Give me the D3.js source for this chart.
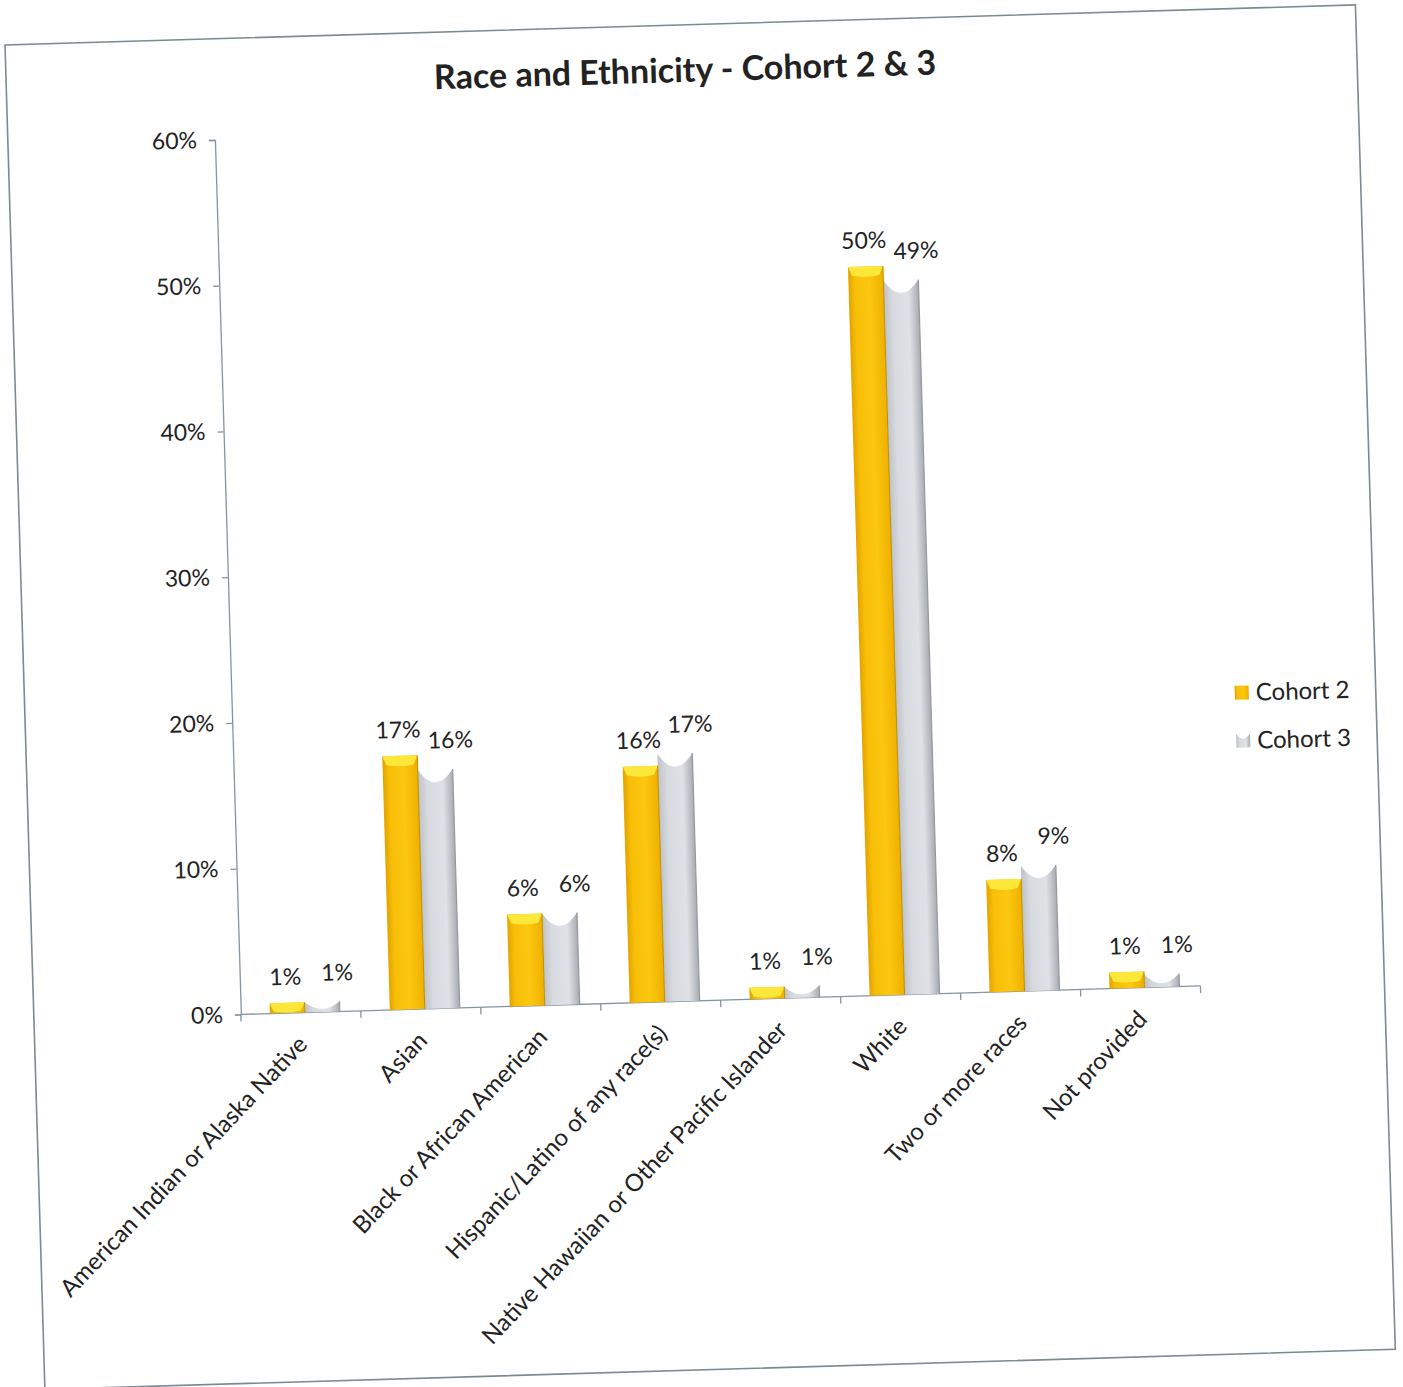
<!DOCTYPE html>
<html>
<head>
<meta charset="utf-8">
<script src="https://cdn.jsdelivr.net/npm/d3@7"></script>
<style>
  body { margin: 0; background: #fff; }
  svg { display: block; font-family: Lato, sans-serif; }
</style>
</head>
<body>
<svg id="chart" width="1403" height="1387"></svg>
<script>
const categories = [
  'American Indian or Alaska Native',
  'Asian',
  'Black or African American',
  'Hispanic/Latino of any race(s)',
  'Native Hawaiian or Other Pacific Islander',
  'White',
  'Two or more races',
  'Not provided'
];
const seriesNames = ['Cohort 2', 'Cohort 3'];
const cohort2 = [0.007, 0.174, 0.063, 0.162, 0.008, 0.500, 0.077, 0.011];
const cohort3 = [0.007, 0.164, 0.063, 0.170, 0.008, 0.490, 0.086, 0.009];
const yTicks = [0, 0.1, 0.2, 0.3, 0.4, 0.5, 0.6];
const chartTitle = 'Race and Ethnicity - Cohort 2 & 3';

const axisColor = '#8494a0';
const textColor = '#222';
const pct = d3.format('.0%');

let svg = d3.select('#chart');

// gradients for the two bar styles
let defs = svg.append('defs');
let addGradient = (id, stops) => {
  let grad = defs.append('linearGradient')
    .attr('id', id)
    .attr('x1', '0%').attr('x2', '100%')
    .attr('y1', '0%').attr('y2', '0%');
  stops.forEach(s => {
    grad.append('stop').attr('offset', s[0]).attr('stop-color', s[1]);
  });
};
addGradient('gradYellow', [['0%', '#e3a300'], ['18%', '#f8be08'], ['60%', '#fcc710'], ['100%', '#eeb000']]);
addGradient('gradGray', [['0%', '#bfc3c9'], ['25%', '#d7dadf'], ['70%', '#dfe1e5'], ['100%', '#a8acb3']]);

// the scanned page sits slightly tilted
let g = svg.append('g').attr('transform', 'translate(5,45) rotate(-1.7)');

g.append('rect')
  .attr('x', 0).attr('y', 0)
  .attr('width', 1351).attr('height', 1345)
  .attr('fill', '#fff')
  .attr('stroke', '#7c8a92')
  .attr('stroke-width', 1.6);

g.append('text')
  .attr('x', 679).attr('y', 57)
  .attr('text-anchor', 'middle')
  .attr('font-size', 34)
  .attr('font-weight', 'bold')
  .attr('fill', textColor)
  .text(chartTitle);

let plotLeft = 207, plotRight = 1167, plotTop = 101, plotBottom = 976;

let x0 = d3.scaleBand().domain(categories).range([plotLeft, plotRight]);
let x1 = d3.scaleBand().domain(seriesNames).range([29, 99]);
let y = d3.scaleLinear().domain([0, 0.6]).range([plotBottom, plotTop]);

// y axis
let yAxis = g.append('g')
  .attr('transform', 'translate(' + plotLeft + ',0)')
  .call(d3.axisLeft(y).tickValues(yTicks).tickFormat(pct).tickSize(6).tickPadding(12));
yAxis.selectAll('path, line').attr('stroke', axisColor).attr('stroke-width', 1.3);
yAxis.selectAll('text')
  .attr('font-family', 'Lato, sans-serif')
  .attr('font-size', 23)
  .attr('fill', textColor);

// x axis: baseline plus ticks on the category boundaries
g.append('line')
  .attr('x1', plotLeft).attr('x2', plotRight)
  .attr('y1', plotBottom).attr('y2', plotBottom)
  .attr('stroke', axisColor).attr('stroke-width', 1.3);

let boundaries = categories.map(c => x0(c)).concat([plotRight]);
g.selectAll('.xtick')
  .data(boundaries)
  .enter()
  .append('line')
  .attr('class', 'xtick')
  .attr('x1', d => d).attr('x2', d => d)
  .attr('y1', plotBottom).attr('y2', plotBottom + 7)
  .attr('stroke', axisColor).attr('stroke-width', 1.3);

g.selectAll('.xlabel')
  .data(categories)
  .enter()
  .append('text')
  .attr('class', 'xlabel')
  .attr('transform', d => 'translate(' + (x0(d) + x0.bandwidth() / 2 + 7) + ',' + (plotBottom + 33) + ') rotate(-45)')
  .attr('text-anchor', 'end')
  .attr('font-size', 24)
  .attr('fill', textColor)
  .text(d => d);

// bars
let rows = categories.map((c, i) => {
  return {
    category: c,
    values: [
      { series: seriesNames[0], value: cohort2[i] },
      { series: seriesNames[1], value: cohort3[i] }
    ]
  };
});

let groups = g.selectAll('.group')
  .data(rows)
  .enter()
  .append('g')
  .attr('class', 'group')
  .attr('transform', d => 'translate(' + x0(d.category) + ',0)');

let bw = x1.bandwidth();

let yellowBody = d => {
  let left = x1(d.series), top = y(d.value);
  return 'M' + left + ',' + plotBottom + 'V' + top + 'H' + (left + bw) + 'V' + plotBottom + 'Z';
};

let yellowTop = d => {
  let left = x1(d.series), top = y(d.value);
  let h = Math.min(9, (plotBottom - top) * 0.8);
  return 'M' + left + ',' + top + 'H' + (left + bw) +
    'L' + (left + bw - 4) + ',' + (top + h) +
    'Q' + (left + bw / 2) + ',' + (top + h + 3) + ' ' + (left + 4) + ',' + (top + h) + 'Z';
};

let grayBody = d => {
  let left = x1(d.series), top = y(d.value);
  let dip = Math.min(13, (plotBottom - top) * 0.7);
  return 'M' + left + ',' + plotBottom + 'V' + top +
    'Q' + (left + bw / 2) + ',' + (top + dip * 2) + ' ' + (left + bw) + ',' + top +
    'V' + plotBottom + 'Z';
};

groups.each(function (row) {
  let grp = d3.select(this);
  let yellow = row.values[0], gray = row.values[1];

  grp.append('path').attr('d', grayBody(gray)).attr('fill', 'url(#gradGray)');
  grp.append('line')
    .attr('x1', x1(gray.series) + bw).attr('x2', x1(gray.series) + bw)
    .attr('y1', y(gray.value)).attr('y2', plotBottom)
    .attr('stroke', '#9499a0').attr('stroke-width', 1.2);

  grp.append('path').attr('d', yellowBody(yellow)).attr('fill', 'url(#gradYellow)');
  grp.append('path').attr('d', yellowTop(yellow)).attr('fill', '#fde83a');
  grp.append('line')
    .attr('x1', x1(yellow.series) + bw).attr('x2', x1(yellow.series) + bw)
    .attr('y1', y(yellow.value)).attr('y2', plotBottom)
    .attr('stroke', '#c28f00').attr('stroke-width', 1);

  grp.selectAll('.vlabel')
    .data(row.values)
    .enter()
    .append('text')
    .attr('class', 'vlabel')
    .attr('x', d => x1(d.series) + bw / 2 + (d.series === seriesNames[0] ? -1 : 16))
    .attr('y', d => y(d.value) - (d.series === seriesNames[0] ? 18 : 21))
    .attr('text-anchor', 'middle')
    .attr('font-size', 23)
    .attr('fill', textColor)
    .text(d => pct(d.value));
});

// legend
let legend = g.selectAll('.legend')
  .data(seriesNames)
  .enter()
  .append('g')
  .attr('class', 'legend')
  .attr('transform', (d, i) => 'translate(1210,' + (684 + i * 48) + ')');

legend.append('path')
  .attr('d', (d, i) => i === 0
    ? 'M0,-7H14V7H0Z'
    : 'M0,7V-7Q7,3 14,-7V7Z')
  .attr('fill', (d, i) => i === 0 ? 'url(#gradYellow)' : 'url(#gradGray)');

legend.append('text')
  .attr('x', 21)
  .attr('dy', '0.35em')
  .attr('font-size', 24)
  .attr('fill', textColor)
  .text(d => d);
</script>
</body>
</html>
